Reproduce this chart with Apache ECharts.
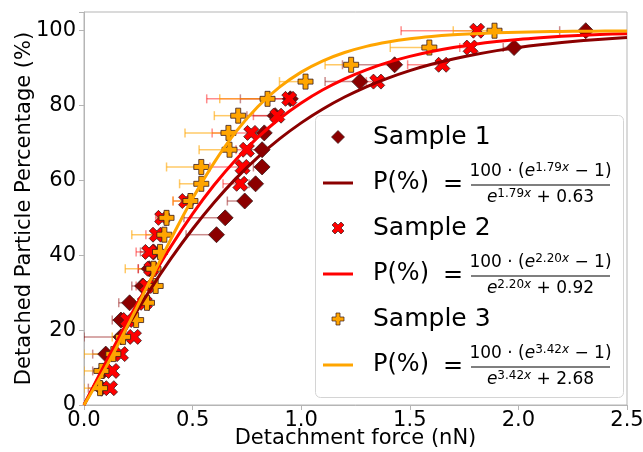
<!DOCTYPE html>
<html>
<head>
<meta charset="utf-8">
<script src="https://cdn.jsdelivr.net/npm/echarts@6/dist/echarts.min.js"></script>
<style>html,body{margin:0;padding:0;background:#fff}#c{width:643px;height:452px}</style>
</head>
<body>
<div id="c"></div>
<script>
// ---- Data ----
const yLevels = [4.5, 9.1, 13.6, 18.2, 22.7, 27.3, 31.8, 36.4, 40.9, 45.5, 50.0, 54.5, 59.1, 63.6, 68.2, 72.7, 77.3, 81.8, 86.4, 90.9, 95.5, 100.0];

const s1X   = [0.08, 0.09, 0.10, 0.17, 0.17, 0.21, 0.27, 0.30, 0.32, 0.61, 0.65, 0.74, 0.79, 0.82, 0.82, 0.83, 0.88, 0.95, 1.27, 1.43, 1.98, 2.31];
const s1Err = [0.06, 0.05, 0.06, 0.17, 0.04, 0.05, 0.05, 0.05, 0.06, 0.14, 0.19, 0.08, 0.03, 0.04, 0.05, 0.06, 0.13, 0.23, 0.16, 0.24, 0.05, 0.12];

const s2X   = [0.12, 0.13, 0.17, 0.23, 0.20, 0.28, 0.29, 0.31, 0.30, 0.335, 0.36, 0.47, 0.72, 0.73, 0.75, 0.77, 0.89, 0.945, 1.35, 1.65, 1.78, 1.81];
const s2Err = [0.03, 0.03, 0.04, 0.04, 0.04, 0.08, 0.05, 0.06, 0.06, 0.05, 0.03, 0.06, 0.08, 0.15, 0.05, 0.18, 0.11, 0.38, 0.05, 0.16, 0.05, 0.35];

const s3X   = [0.074, 0.08, 0.135, 0.18, 0.24, 0.29, 0.33, 0.32, 0.35, 0.37, 0.38, 0.49, 0.54, 0.54, 0.67, 0.665, 0.71, 0.845, 1.02, 1.23, 1.59, 1.89];
const s3Err = [0.074, 0.08, 0.135, 0.05, 0.06, 0.06, 0.04, 0.13, 0.03, 0.15, 0.04, 0.08, 0.10, 0.16, 0.14, 0.20, 0.11, 0.22, 0.12, 0.12, 0.18, 0.19];

// fitted curves, sampled along x
const curveX = [0, 0.1, 0.2, 0.3, 0.4, 0.5, 0.6, 0.7, 0.8, 0.9, 1.0, 1.1, 1.2, 1.3, 1.4, 1.5, 1.6, 1.7, 1.8, 1.9, 2.0, 2.1, 2.2, 2.3, 2.4, 2.5];
const curve1 = [0, 10.73, 20.89, 30.37, 39.09, 47.03, 54.18, 60.54, 66.16, 71.09, 75.38, 79.09, 82.28, 85.02, 87.35, 89.34, 91.03, 92.45, 93.66, 94.68, 95.54, 96.26, 96.86, 97.37, 97.80, 98.16];
const curve2 = [0, 11.36, 22.35, 32.74, 42.36, 51.07, 58.83, 65.62, 71.48, 76.48, 80.69, 84.22, 87.14, 89.56, 91.53, 93.15, 94.47, 95.54, 96.40, 97.10, 97.67, 98.12, 98.49, 98.79, 99.03, 99.22];
const curve3 = [0, 9.98, 21.06, 32.72, 44.31, 55.17, 64.83, 73.02, 79.67, 84.91, 88.93, 91.95, 94.18, 95.82, 97.00, 97.86, 98.47, 98.91, 99.22, 99.45, 99.61, 99.72, 99.80, 99.86, 99.90, 99.93];

const xTicks = ['0.0', '0.5', '1.0', '1.5', '2.0', '2.5'];
const seriesNames = ['Sample 1', 'Sample 2', 'Sample 3'];
const fitA = ['1.79', '2.20', '3.42'];
const fitC = ['0.63', '0.92', '2.68'];

// ---- Styles ----
const FONT = '"DejaVu Sans", sans-serif';
const COL = ['#8b0000', '#ff0000', '#ffa500'];
const ERRCOL = ['rgba(139,0,0,0.45)', 'rgba(255,0,0,0.45)', 'rgba(255,165,0,0.6)'];
const XPTS = [[1,0],[2,1],[3,0],[4,1],[3,2],[4,3],[3,4],[2,3],[1,4],[0,3],[1,2],[0,1]];
const PPTS = [[1,0],[2,0],[2,1],[3,1],[3,2],[2,2],[2,3],[1,3],[1,2],[0,2],[0,1],[1,1]];
const DPTS = [[1,0],[2,1],[1,2],[0,1]];
function toPath(pts) { return 'path://M' + pts.map(p => p[0] + ',' + p[1]).join(' L') + ' Z'; }
const SYMS = ['diamond', toPath(XPTS), toPath(PPTS)];
const SIZES = [16, 15, 15];

function zip(a, b) { return a.map((v, i) => [v, b[i]]); }

function errSeries(xs, errs, color) {
  return {
    type: 'custom',
    data: xs.map((x, i) => [x, yLevels[i], errs[i]]),
    encode: { x: 0, y: 1 },
    clip: true,
    silent: true,
    renderItem: function (params, api) {
      const x = api.value(0), y = api.value(1), e = api.value(2);
      const p0 = api.coord([x - e, y]);
      const p1 = api.coord([x, y]);
      const h = 4.5;
      const st = { stroke: color, lineWidth: 1.5 };
      return {
        type: 'group', children: [
          { type: 'line', shape: { x1: p0[0], y1: p0[1], x2: p1[0], y2: p1[1] }, style: st },
          { type: 'line', shape: { x1: p0[0], y1: p0[1] - h, x2: p0[0], y2: p0[1] + h }, style: st },
          { type: 'line', shape: { x1: p1[0], y1: p1[1] - h, x2: p1[0], y2: p1[1] + h }, style: st }
        ]
      };
    }
  };
}
function scatterSeries(i, xs) {
  return {
    type: 'scatter', name: seriesNames[i], data: zip(xs, yLevels),
    symbol: SYMS[i], symbolSize: SIZES[i], symbolKeepAspect: true,
    itemStyle: { color: COL[i], borderColor: '#3a1a1a', borderWidth: 0.8, opacity: 1 },
    silent: true
  };
}
function curveSeries(i, ys) {
  return {
    type: 'line', data: zip(curveX, ys), showSymbol: false, smooth: 0.4,
    lineStyle: { color: COL[i], width: 3 }, silent: true
  };
}

const series = [
  errSeries(s1X, s1Err, ERRCOL[0]), scatterSeries(0, s1X), curveSeries(0, curve1),
  errSeries(s2X, s2Err, ERRCOL[1]), scatterSeries(1, s2X), curveSeries(1, curve2),
  errSeries(s3X, s3Err, ERRCOL[2]), scatterSeries(2, s3X), curveSeries(2, curve3)
];

// ---- Legend (drawn as graphics) ----
const mctx = document.createElement('canvas').getContext('2d');
function tw(t, size, it) { mctx.font = (it ? 'italic ' : '') + size + 'px ' + FONT; return mctx.measureText(t).width; }
function txt(t, x, y, size, it, align) {
  return { type: 'text', x: x, y: y, silent: true, z: 101,
    style: { text: t, font: (it ? 'italic ' : '') + size + 'px ' + FONT, fill: '#000', align: align || 'left', verticalAlign: 'middle' } };
}
function pieces(list, cx, y) {
  let total = 0; list.forEach(p => total += tw(p[0], p[1], p[2]));
  let x = cx - total / 2; const out = [];
  list.forEach(p => { out.push(txt(p[0], x, p[3] ? y - 4.5 : y, p[1], p[2])); x += tw(p[0], p[1], p[2]); });
  return out;
}
function poly(pts, span, cx, cy, w, h, fill) {
  return { type: 'polygon', silent: true, z: 101,
    shape: { points: pts.map(p => [cx - w / 2 + p[0] / span * w, cy - h / 2 + p[1] / span * h]) },
    style: { fill: fill, stroke: '#3a1a1a', lineWidth: 0.7 } };
}
const legendEls = [];
legendEls.push({ type: 'rect', shape: { x: 315.5, y: 115.5, width: 308, height: 282, r: 5 }, z: 100, silent: true,
  style: { fill: 'rgba(255,255,255,0.85)', stroke: '#d4d4d4', lineWidth: 1 } });
const legPts = [[DPTS, 2, 13, 13], [XPTS, 4, 12, 12], [PPTS, 3, 12, 12]];
for (let i = 0; i < 3; i++) {
  const lineY = 185 + i * 91;
  const rowY = lineY - 48;
  legendEls.push(poly(legPts[i][0], legPts[i][1], 338, rowY, legPts[i][2], legPts[i][3], COL[i]));
  legendEls.push(txt(seriesNames[i], 373, rowY, 25, false));
  legendEls.push({ type: 'line', shape: { x1: 323, y1: lineY - 2, x2: 353, y2: lineY - 2 }, silent: true, z: 101,
    style: { stroke: COL[i], lineWidth: 3 } });
  legendEls.push(txt('P(%)', 373, lineY - 2, 24, false));
  legendEls.push(txt('=', 443, lineY, 24, false));
  legendEls.push({ type: 'line', shape: { x1: 471, y1: lineY, x2: 610, y2: lineY }, silent: true, z: 101,
    style: { stroke: '#000', lineWidth: 1.2 } });
  pieces([['100 · (', 17, false, 0], ['e', 17, true, 0], [fitA[i], 12, false, 1], ['x', 12, true, 1], [' − 1)', 17, false, 0]], 540.5, lineY - 13)
    .forEach(e => legendEls.push(e));
  pieces([['e', 17, true, 0], [fitA[i], 12, false, 1], ['x', 12, true, 1], [' + ' + fitC[i], 17, false, 0]], 540.5, lineY + 13)
    .forEach(e => legendEls.push(e));
}

const AXC = '#b5b5b5';
const chart = echarts.init(document.getElementById('c'), null, { renderer: 'canvas' });
chart.setOption({
  animation: false,
  backgroundColor: '#fff',
  grid: { left: 84, right: 16, top: 12, bottom: 47, show: true, borderColor: AXC, borderWidth: 1, backgroundColor: 'transparent',
    containLabel: false, outerBoundsMode: 'none' },
  xAxis: {
    type: 'value', min: 0, max: 2.5, interval: 0.5,
    name: 'Detachment force (nN)', nameLocation: 'middle', nameGap: 23, nameMoveOverlap: false,
    nameTextStyle: { fontFamily: FONT, fontSize: 21, color: '#000' },
    axisLine: { show: true, lineStyle: { color: AXC, width: 1 } },
    axisTick: { show: true, length: 5, lineStyle: { color: AXC, width: 1 } },
    axisLabel: { fontFamily: FONT, fontSize: 21, color: '#000', margin: 5,
      formatter: v => { const idx = Math.round(v / 0.5); return xTicks[idx] !== undefined ? xTicks[idx] : ''; } },
    splitLine: { show: false }
  },
  yAxis: {
    type: 'value', min: 0, max: 105, interval: 20,
    name: 'Detached Particle Percentage (%)', nameLocation: 'middle', nameGap: 49, nameMoveOverlap: false,
    nameTextStyle: { fontFamily: FONT, fontSize: 21, color: '#000' },
    axisLine: { show: true, lineStyle: { color: AXC, width: 1 } },
    axisTick: { show: true, length: 5, lineStyle: { color: AXC, width: 1 } },
    axisLabel: { fontFamily: FONT, fontSize: 21, color: '#000', margin: 8, formatter: v => v > 100 ? '' : String(v) },
    splitLine: { show: false }
  },
  series: series,
  graphic: legendEls
});
</script>
</body>
</html>
